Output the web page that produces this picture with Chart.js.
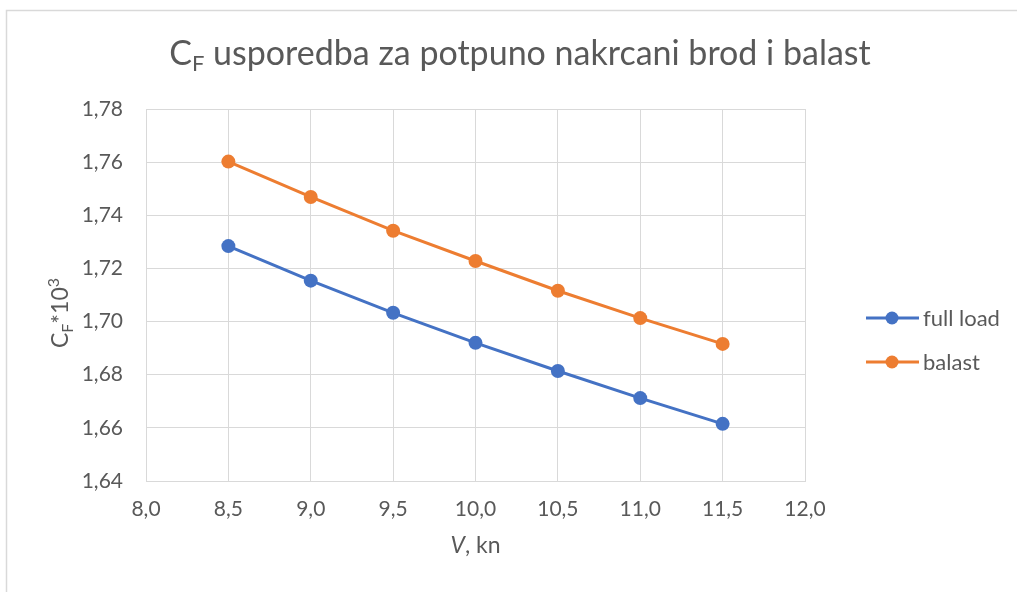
<!DOCTYPE html>
<html>
<head>
<meta charset="utf-8">
<script src="https://cdn.jsdelivr.net/npm/chart.js@4/dist/chart.umd.min.js"></script>
<style>
  html, body { margin: 0; padding: 0; background: #ffffff; }
  #wrap { width: 1017px; height: 592px; position: relative; }
</style>
</head>
<body>
<div id="wrap"><canvas id="cfChart"></canvas></div>
<script>
// Brzina V (kn) i vrijednosti C_F*10^3
const speeds = [8.5, 9.0, 9.5, 10.0, 10.5, 11.0, 11.5];
const fullLoad = [1.7284, 1.7154, 1.7033, 1.6920, 1.6814, 1.6712, 1.6615];
const balast = [1.7602, 1.7469, 1.7342, 1.7228, 1.7116, 1.7013, 1.6916];
const seriesNames = ['full load', 'balast'];

const FONT = 'Lato, "Open Sans", sans-serif';
const TEXT = '#595959';
const GRID = '#d9d9d9';
const COLORS = { full: '#4472C4', balast: '#ED7D31' };

const toPoints = (ys) => speeds.map((x, i) => ({ x: x, y: ys[i] }));
const comma = (v, d) => Number(v).toFixed(d).replace('.', ',');

// Draws the frame, title, axis titles and the legend (sub/superscripts need manual text)
const decorations = {
    id: 'decorations',
    beforeDraw(chart) {
        const { ctx } = chart;
        ctx.save();
        ctx.fillStyle = '#ffffff';
        ctx.fillRect(0, 0, chart.width, chart.height);
        ctx.strokeStyle = GRID;
        ctx.lineWidth = 1.5;
        ctx.strokeRect(6.5, 10.5, chart.width + 20, chart.height + 20);
        ctx.restore();
    },
    afterDraw(chart) {
        const { ctx, chartArea } = chart;
        ctx.save();
        ctx.fillStyle = TEXT;
        ctx.textBaseline = 'alphabetic';

        // Title: C_F usporedba ...
        const bigFont = '34px ' + FONT;
        const subFont = '22px ' + FONT;
        const rest = ' usporedba za potpuno nakrcani brod i balast';
        ctx.font = bigFont;
        const wC = ctx.measureText('C').width;
        const wRest = ctx.measureText(rest).width;
        ctx.font = subFont;
        const wF = ctx.measureText('F').width;
        const total = wC + wF + wRest;
        let x = 520 - total / 2;
        const base = 65;
        ctx.textAlign = 'left';
        ctx.font = bigFont;
        ctx.fillText('C', x, base);
        x += wC;
        ctx.font = subFont;
        ctx.fillText('F', x, base + 6);
        x += wF;
        ctx.font = bigFont;
        ctx.fillText(rest, x, base);

        // Y axis title: C_F*10^3 (rotated)
        ctx.save();
        ctx.translate(68, 313);
        ctx.rotate(-Math.PI / 2);
        const yFont = '23px ' + FONT;
        const ySub = '16px ' + FONT;
        ctx.font = yFont;
        const a1 = ctx.measureText('C').width;
        const a3 = ctx.measureText('*10').width;
        ctx.font = ySub;
        const a2 = ctx.measureText('F').width;
        const a4 = ctx.measureText('3').width;
        let yx = -(a1 + a2 + a3 + a4) / 2;
        ctx.font = yFont;
        ctx.fillText('C', yx, 0); yx += a1;
        ctx.font = ySub;
        ctx.fillText('F', yx, 5); yx += a2;
        ctx.font = yFont;
        ctx.fillText('*10', yx, 0); yx += a3;
        ctx.font = ySub;
        ctx.fillText('3', yx, -9);
        ctx.restore();

        // X axis title: V, kn (V italic)
        const cx = (chartArea.left + chartArea.right) / 2;
        ctx.font = 'italic 23px ' + FONT;
        const wV = ctx.measureText('V').width;
        ctx.font = '23px ' + FONT;
        const wKn = ctx.measureText(', kn').width;
        let xx = cx - (wV + wKn) / 2;
        ctx.font = 'italic 23px ' + FONT;
        ctx.fillText('V', xx, 553);
        ctx.font = '23px ' + FONT;
        ctx.fillText(', kn', xx + wV, 553);

        // Legend
        chart.data.datasets.forEach((ds, i) => {
            const ly = 318 + i * 44;
            ctx.strokeStyle = ds.borderColor;
            ctx.lineWidth = 3;
            ctx.beginPath();
            ctx.moveTo(866, ly);
            ctx.lineTo(919, ly);
            ctx.stroke();
            ctx.fillStyle = ds.backgroundColor;
            ctx.beginPath();
            ctx.arc(892, ly, 6.5, 0, Math.PI * 2);
            ctx.fill();
            ctx.fillStyle = TEXT;
            ctx.font = '22px ' + FONT;
            ctx.textBaseline = 'middle';
            ctx.fillText(ds.label, 923, ly + 1);
            ctx.textBaseline = 'alphabetic';
        });
        ctx.restore();
    }
};

new Chart(document.getElementById('cfChart'), {
    type: 'scatter',
    data: {
        datasets: [
            {
                label: seriesNames[0],
                data: toPoints(fullLoad),
                showLine: true,
                borderColor: COLORS.full,
                backgroundColor: COLORS.full,
                borderWidth: 3,
                pointRadius: 7,
                pointBorderWidth: 0,
                pointHoverRadius: 7
            },
            {
                label: seriesNames[1],
                data: toPoints(balast),
                showLine: true,
                borderColor: COLORS.balast,
                backgroundColor: COLORS.balast,
                borderWidth: 3,
                pointRadius: 7,
                pointBorderWidth: 0,
                pointHoverRadius: 7
            }
        ]
    },
    options: {
        responsive: true,
        maintainAspectRatio: false,
        animation: false,
        layout: { padding: { left: 0, right: 212, top: 109, bottom: 0 } },
        scales: {
            x: {
                type: 'linear',
                min: 8,
                max: 12,
                afterFit: (s) => { s.height = 111; },
                grid: { color: GRID, lineWidth: 1, drawTicks: false },
                border: { color: GRID, width: 1 },
                ticks: {
                    stepSize: 0.5,
                    padding: 16,
                    color: TEXT,
                    font: { family: FONT, size: 21 },
                    callback: (v) => comma(v, 1)
                }
            },
            y: {
                type: 'linear',
                min: 1.64,
                max: 1.78,
                afterFit: (s) => { s.width = 146; },
                grid: { color: GRID, lineWidth: 1, drawTicks: false },
                border: { color: GRID, width: 1 },
                ticks: {
                    stepSize: 0.02,
                    padding: 23,
                    color: TEXT,
                    font: { family: FONT, size: 21 },
                    callback: (v) => comma(v, 2)
                }
            }
        },
        plugins: {
            legend: { display: false },
            title: { display: false },
            tooltip: { enabled: false }
        }
    },
    plugins: [decorations]
});
</script>
</body>
</html>
